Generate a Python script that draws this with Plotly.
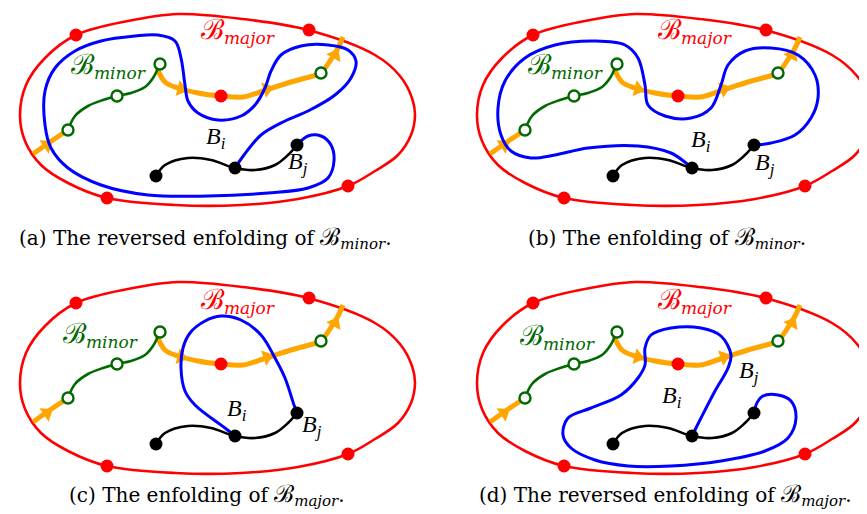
import math
import plotly.graph_objects as go

# ---------------- data (panel-local coordinates, pixels) ----------------
PANEL_OFFSETS = {"a": (0, 0), "b": (457, 0), "c": (0, 268), "d": (457, 268)}

RED_LOOP = [(68, 27), (120, 13), (170, 6), (235, 11), (300, 22), (367, 47), (392, 68),
            (404, 90), (407, 107), (403, 127), (390, 147), (367, 163), (340, 178),
            (290, 191), (233, 197), (167, 197), (99, 190), (60, 175), (33, 157),
            (17, 133), (12, 107), (18, 77), (37, 50), (68, 27)]
RED_DOTS = [(68, 27), (301, 22), (340, 178), (99, 190), (213, 88)]

ORANGE_SEGS = [
    [(25, 146), (42, 134), (60, 122)],
    [(149, 60), (157, 74), (170, 80), (190, 85), (213, 88), (235, 89), (255, 83),
     (283, 74), (313, 66)],
    [(313, 66), (322, 53), (330, 40), (335, 29)],
]
ARROWS = [(39, 137, -34), (173, 81, 14), (259, 81, -18), (327, 47, -62)]

GREEN_PATH = [(60, 122), (67, 108), (80, 98), (95, 92), (109, 88), (123, 85),
              (137, 79), (145, 70), (152, 56)]
GREEN_RINGS = [(60, 122), (109, 88), (152, 56), (313, 65)]

BLACK_PATH = [(148, 168), (157, 157), (180, 150), (203, 152), (227, 160),
              (247, 162), (267, 157), (280, 147), (289, 137)]
BLACK_DOTS = [(148, 168), (227, 160), (289, 137)]

BLUE = {
    "a": [(227, 160), (236, 147), (253, 127), (277, 113), (300, 103), (327, 87),
          (343, 70), (348, 53), (340, 42), (320, 37), (293, 38), (273, 47),
          (263, 63), (257, 80), (247, 97), (233, 108), (210, 112), (190, 105),
          (180, 93), (177, 77), (173, 50), (167, 33), (150, 27), (127, 28),
          (93, 33), (67, 43), (47, 60), (37, 83), (37, 117), (43, 140),
          (60, 160), (93, 177), (140, 187), (200, 188), (260, 185), (300, 180),
          (320, 170), (326, 153), (323, 137), (313, 128), (300, 128), (289, 137)],
    "b": [(227, 160), (221, 155), (206, 145), (173, 138), (123, 140), (90, 147),
          (66, 150), (46, 143), (36, 127), (33, 100), (40, 73), (60, 50),
          (90, 37), (130, 33), (160, 37), (173, 50), (180, 77), (183, 97),
          (200, 108), (226, 110), (246, 100), (256, 77), (263, 57), (280, 43),
          (306, 40), (333, 47), (350, 67), (353, 90), (346, 110), (330, 127),
          (306, 135), (290, 137)],
    "c": [(227, 160), (217, 152), (187, 129), (177, 115), (173, 92), (175, 72),
          (182, 57), (197, 45), (213, 40), (233, 44), (253, 59), (267, 82),
          (277, 102), (286, 129), (289, 137)],
    "d": [(227, 160), (236, 142), (250, 115), (263, 92), (266, 79), (256, 60),
          (236, 52), (206, 52), (186, 59), (180, 72), (180, 89), (173, 102),
          (156, 119), (126, 132), (103, 142), (98, 159), (106, 172), (130, 184),
          (163, 190), (206, 190), (256, 185), (300, 175), (323, 162), (331, 142),
          (326, 125), (313, 119), (298, 120), (291, 129), (290, 137)],
}

LABEL_MAJOR = {"a": (230, 23), "b": (230, 23), "c": (230, 25), "d": (230, 25)}
LABEL_MINOR = {"a": (100, 58), "b": (100, 58), "c": (92, 59), "d": (92, 61)}
LABEL_BI = {"a": (208, 130), "b": (236, 133), "c": (229, 134), "d": (207, 121)}
LABEL_BJ = {"a": (290, 155), "b": (300, 156), "c": (304, 150), "d": (284, 96)}

CAPTION_HEAD = {
    "a": "(a) The reversed enfolding of ",
    "b": "(b) The enfolding of ",
    "c": "(c) The enfolding of ",
    "d": "(d) The reversed enfolding of ",
}
CAPTION_SET = {"a": "minor", "b": "minor", "c": "major", "d": "major"}
CAPTION_POS = {"a": (197, 230), "b": (659, 230), "c": (199, 487), "d": (657, 487)}

# ---------------- styles ----------------
RED = "#ff0000"
BLUE_C = "#0000ff"
GREEN = "#006a00"
ORANGE = "#ffa500"
SERIF = "Liberation Serif, DejaVu Serif, serif"
WIDE_SERIF = "DejaVu Serif, Liberation Serif, serif"

fig = go.Figure()


def shift(pts, off):
    return [p[0] + off[0] for p in pts], [p[1] + off[1] for p in pts]


def line(pts, off, color, width):
    xs, ys = shift(pts, off)
    fig.add_trace(go.Scatter(x=xs, y=ys, mode="lines",
                             line=dict(color=color, width=width, shape="spline", smoothing=1),
                             hoverinfo="skip", showlegend=False))


def script_b(sub, b_px, sub_px):
    return ("<span style='font-size:%dpx'>ℬ</span><sub><span style='font-size:%dpx;"
            "font-family:DejaVu Serif'><i>%s</i></span></sub>" % (b_px, sub_px, sub))


annotations = []
for key, off in PANEL_OFFSETS.items():
    line(RED_LOOP, off, RED, 2.6)
    for seg in ORANGE_SEGS:
        line(seg, off, ORANGE, 5)
    ax, ay = shift([(a[0], a[1]) for a in ARROWS], off)
    fig.add_trace(go.Scatter(x=ax, y=ay, mode="markers",
                             marker=dict(symbol="triangle-right", size=14, color=ORANGE,
                                         angle=[a[2] for a in ARROWS], line=dict(width=0)),
                             hoverinfo="skip", showlegend=False))
    line(GREEN_PATH, off, GREEN, 2.6)
    line(BLUE[key], off, BLUE_C, 3)
    line(BLACK_PATH, off, "black", 2.6)
    rx, ry = shift(RED_DOTS, off)
    fig.add_trace(go.Scatter(x=rx, y=ry, mode="markers",
                             marker=dict(size=13, color=RED, line=dict(width=0)),
                             hoverinfo="skip", showlegend=False))
    gx, gy = shift(GREEN_RINGS, off)
    fig.add_trace(go.Scatter(x=gx, y=gy, mode="markers",
                             marker=dict(size=11, color="white", line=dict(width=2.4, color=GREEN)),
                             hoverinfo="skip", showlegend=False))
    bx, by = shift(BLACK_DOTS, off)
    fig.add_trace(go.Scatter(x=bx, y=by, mode="markers",
                             marker=dict(size=13, color="black", line=dict(width=0)),
                             hoverinfo="skip", showlegend=False))

    def ann(pos, text, color, size, family=SERIF):
        annotations.append(dict(x=pos[0] + off[0], y=pos[1] + off[1], xref="x", yref="y",
                                text=text, showarrow=False, xanchor="center", yanchor="middle",
                                font=dict(family=family, size=size, color=color)))

    ann(LABEL_MAJOR[key], script_b("major", 28, 17), RED, 22)
    ann(LABEL_MINOR[key], script_b("minor", 28, 17), GREEN, 22)
    ann(LABEL_BI[key], "<i>B</i><sub><i>i</i></sub>", "black", 24)
    ann(LABEL_BJ[key], "<i>B</i><sub><i>j</i></sub>", "black", 24)
    cx, cy = CAPTION_POS[key]
    annotations.append(dict(x=cx, y=cy, xref="x", yref="y",
                            text=CAPTION_HEAD[key] + script_b(CAPTION_SET[key], 24, 15) + ".",
                            showarrow=False, xanchor="center", yanchor="middle",
                            font=dict(family=WIDE_SERIF, size=20, color="black")))

fig.update_layout(
    width=867, height=514, margin=dict(l=0, r=0, t=0, b=0),
    paper_bgcolor="white", plot_bgcolor="white",
    xaxis=dict(range=[0, 867], visible=False, fixedrange=True),
    yaxis=dict(range=[514, 0], visible=False, fixedrange=True),
    annotations=annotations, showlegend=False,
)
fig.write_html("out.html")
